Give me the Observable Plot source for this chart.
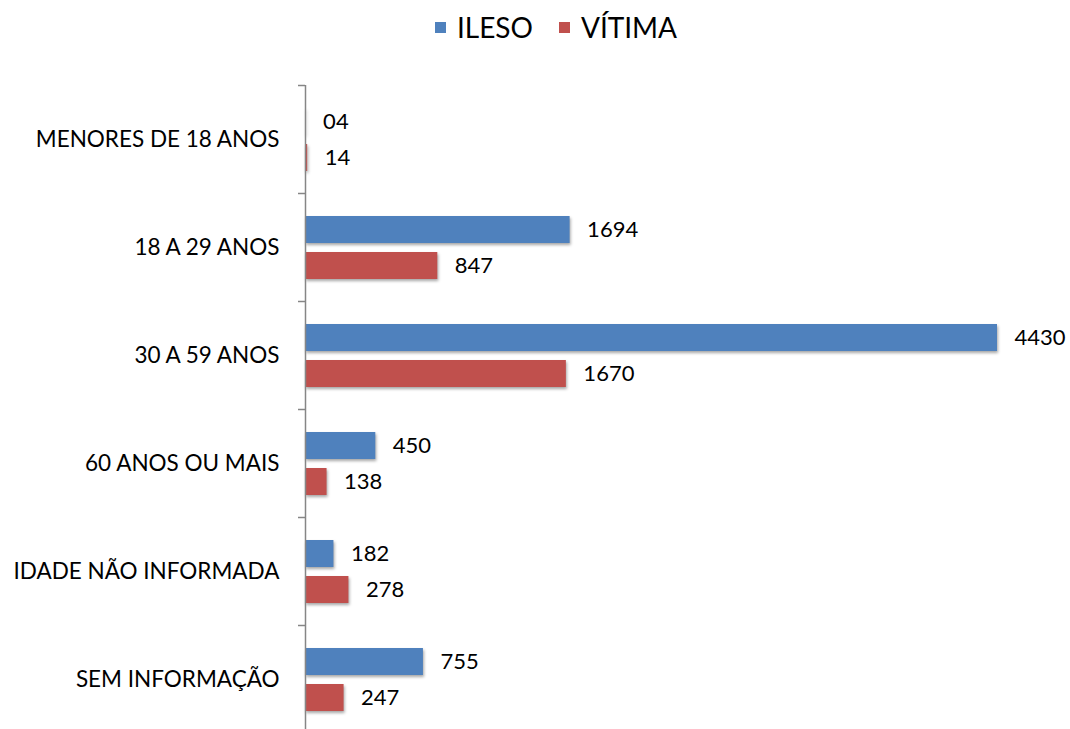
<!DOCTYPE html>
<html>
<head>
<meta charset="utf-8">
<script src="https://cdn.jsdelivr.net/npm/d3@7"></script>
<script src="https://cdn.jsdelivr.net/npm/@observablehq/plot@0.6"></script>
<style>
  html, body { margin: 0; padding: 0; background: #fff; overflow: hidden; }
  #wrap { position: relative; width: 1070px; height: 729px; }
  #legend { position: absolute; top: 10px; left: 21px; width: 1070px; display: flex; justify-content: center; font-family: Lato, sans-serif; font-size: 28px; color: #000; }
  #legend .item { display: flex; align-items: center; margin: 0 13px; }
  #legend .sw { width: 11px; height: 11px; margin-right: 11px; }
  #chart svg rect { filter: drop-shadow(1px 2px 1.5px rgba(0,0,0,0.35)); }
</style>
</head>
<body>
<div id="wrap">
  <div id="legend"></div>
  <div id="chart"></div>
</div>
<script>
const categories = ["MENORES DE 18 ANOS", "18 A 29 ANOS", "30 A 59 ANOS", "60 ANOS OU MAIS", "IDADE NÃO INFORMADA", "SEM INFORMAÇÃO"];
const series = ["ILESO", "VÍTIMA"];
const ileso = [4, 1694, 4430, 450, 182, 755];
const vitima = [14, 847, 1670, 138, 278, 247];
const colors = ["#4F81BD", "#C0504D"];

const rowsI = categories.map((c, i) => ({cat: c, value: ileso[i], label: d3.format("02d")(ileso[i])}));
const rowsV = categories.map((c, i) => ({cat: c, value: vitima[i], label: d3.format("02d")(vitima[i])}));

const legend = document.getElementById("legend");
series.forEach((s, i) => {
  const it = document.createElement("div");
  it.className = "item";
  it.innerHTML = `<span class="sw" style="background:${colors[i]}"></span><span>${s}</span>`;
  legend.appendChild(it);
});

const band = 108, barH = 27;
const topI = 23, topV = 59;

const chart = Plot.plot({
  width: 1070,
  height: 733,
  marginTop: 85,
  marginBottom: 0,
  marginLeft: 305,
  marginRight: 73,
  style: {fontFamily: "Lato, sans-serif", fontSize: "22px", color: "#000", background: "transparent"},
  x: {domain: [0, 4430], axis: null},
  y: {domain: categories, padding: 0, axis: null, label: null},
  marks: [
    Plot.barX(rowsI, {y: "cat", x: "value", fill: colors[0], insetTop: topI, insetBottom: band - topI - barH}),
    Plot.barX(rowsV, {y: "cat", x: "value", fill: colors[1], insetTop: topV, insetBottom: band - topV - barH}),
    Plot.text(rowsI, {y: "cat", x: "value", text: "label", textAnchor: "start", dx: 17, dy: topI + barH / 2 - band / 2, fontSize: 22, fill: "#000"}),
    Plot.text(rowsV, {y: "cat", x: "value", text: "label", textAnchor: "start", dx: 17, dy: topV + barH / 2 - band / 2, fontSize: 22, fill: "#000"}),
    Plot.ruleX([0], {stroke: "#868686", strokeWidth: 1.5}),
    Plot.axisY({tickSize: 7, dy: -band / 2, text: null, stroke: "#868686", strokeWidth: 1.5, label: null}),
    Plot.axisY({tickSize: 0, tickPadding: 26, fontSize: 22.5, fill: "#000", label: null})
  ]
});
document.getElementById("chart").appendChild(chart);
</script>
</body>
</html>
